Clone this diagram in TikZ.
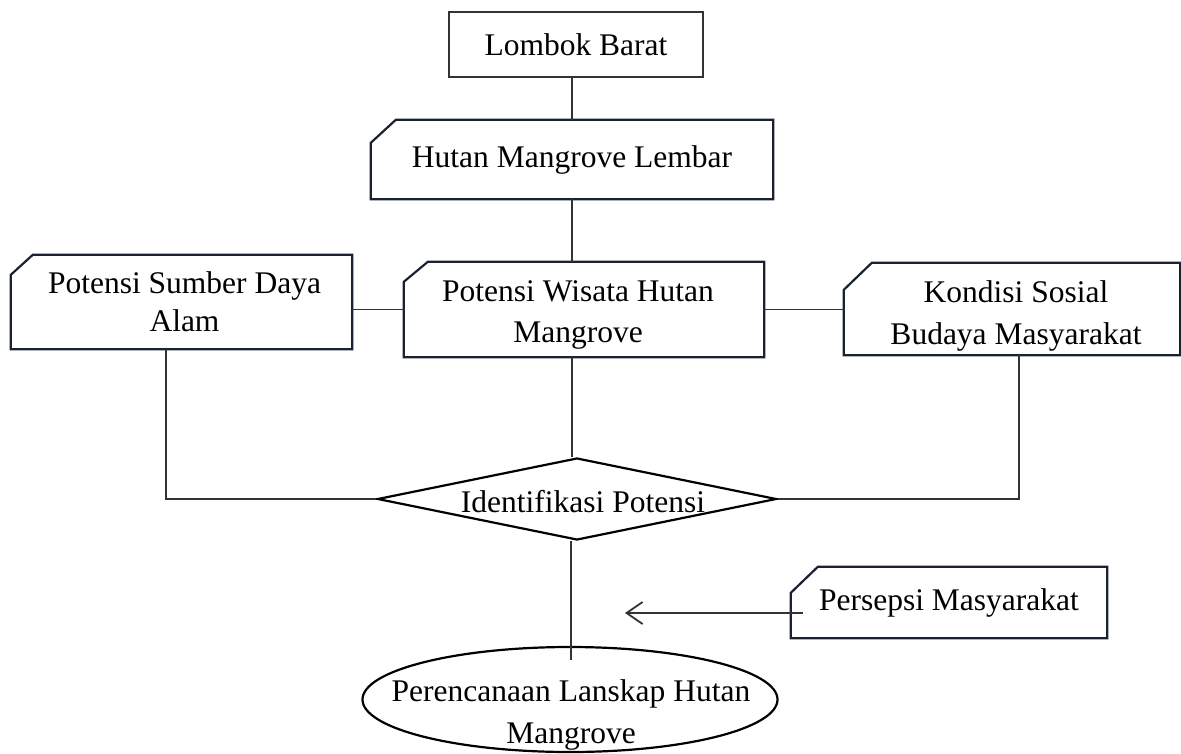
\documentclass[tikz,border=0pt]{standalone}
\usepackage{fontspec}
\setmainfont{Liberation Serif}
\usetikzlibrary{shapes.geometric,arrows.meta,calc}
\definecolor{boxc}{HTML}{1A2130}
\definecolor{linec}{HTML}{333333}
\newcommand\fsz{\fontsize{31.5}{35}\selectfont}
\newcommand\cardoutline[3]{\draw[outline] ([xshift=#2pt]#1.north west) -- (#1.north east) -- (#1.south east) -- (#1.south west) -- ([yshift=-#3pt]#1.north west) -- cycle;}
\tikzset{
  every node/.style={font=\fsz},
  cardbox/.style={rectangle, inner sep=0pt},
  outline/.style={draw=boxc, line width=2.2pt, line join=miter},
  plainbox/.style={rectangle, draw=linec, line width=1.2pt, inner sep=0pt},
  conn/.style={draw=linec, line width=1.3pt},
  txt/.style={align=center, inner sep=0pt},
}
\begin{document}
\begin{tikzpicture}[x=1pt,y=-1pt]
\useasboundingbox (0,0) rectangle (1181,753);
% nodes
\node[plainbox, minimum width=254pt, minimum height=65pt] (lombok) at (576,44.5) {Lombok Barat};
\node[cardbox, minimum width=402pt, minimum height=79pt] (hml) at (572,159.5) {Hutan Mangrove Lembar};
\node[cardbox, minimum width=341pt, minimum height=94pt,
  label={[name=psdat, txt, font=\fontsize{31.5}{38}\selectfont, xshift=3pt, yshift=0pt]center:{Potensi Sumber Daya\\Alam}}] (psda) at (181.5,302) {};
\node[cardbox, minimum width=360pt, minimum height=95pt,
  label={[name=pwmt, txt, font=\fontsize{31.5}{41}\selectfont, xshift=-6pt, yshift=-5.9pt]center:{Potensi Wisata Hutan\\Mangrove}}] (pwm) at (584,309.5) {};
\node[cardbox, minimum width=336pt, minimum height=92pt,
  label={[name=ksbt, txt, font=\fontsize{31.5}{42}\selectfont, xshift=4pt, yshift=-6.5pt]center:{Kondisi Sosial\\Budaya Masyarakat}}] (ksb) at (1012,309) {};
\node[cardbox, minimum width=316pt, minimum height=71pt] (pers) at (949,602.5) {Persepsi Masyarakat};
\node[diamond, draw=black, line width=2.2pt, aspect=4.87, minimum width=399pt, minimum height=82pt, inner sep=0pt,
  label={[name=idpt, inner sep=0pt, xshift=6pt, yshift=-3pt]center:{Identifikasi Potensi}}] (idp) at (577,499) {};
\node[ellipse, draw=black, line width=2.2pt, minimum width=415pt, minimum height=105pt, inner sep=0pt,
  label={[name=plant, txt, font=\fontsize{31.5}{42}\selectfont, xshift=1pt, yshift=-15.5pt]center:{Perencanaan Lanskap Hutan\\Mangrove}}] (plan) at (570,699.5) {};
% card outlines
\cardoutline{hml}{25}{23}
\cardoutline{psda}{22}{20}
\cardoutline{pwm}{24}{20}
\cardoutline{ksb}{28}{27}
\cardoutline{pers}{27}{26}
% connectors
\coordinate (pend) at (571,660);
\coordinate (atip) at (625,613);
\draw[conn] (lombok.south -| hml.north) -- (hml.north);
\draw[conn] (hml.south) -- (pwm.north -| hml.south);
\draw[conn] (psda.east |- pwm.west) -- (pwm.west);
\draw[conn] (pwm.east) -- (ksb.west |- pwm.east);
\draw[conn] (pwm.south -| hml.south) -- (idp.north -| hml.south);
\draw[conn] ([xshift=-15.5pt]psda.south) |- (idp.west);
\draw[conn] ([xshift=7pt]ksb.south) |- (idp.east);
\draw[conn] (pend |- idp.south) -- (pend);
\draw[conn, line width=1.5pt, -{Straight Barb[length=16pt,width=22pt,line width=1.8pt]}] ($(pers.west |- atip)+(12,0)$) -- (atip);
\end{tikzpicture}
\end{document}
